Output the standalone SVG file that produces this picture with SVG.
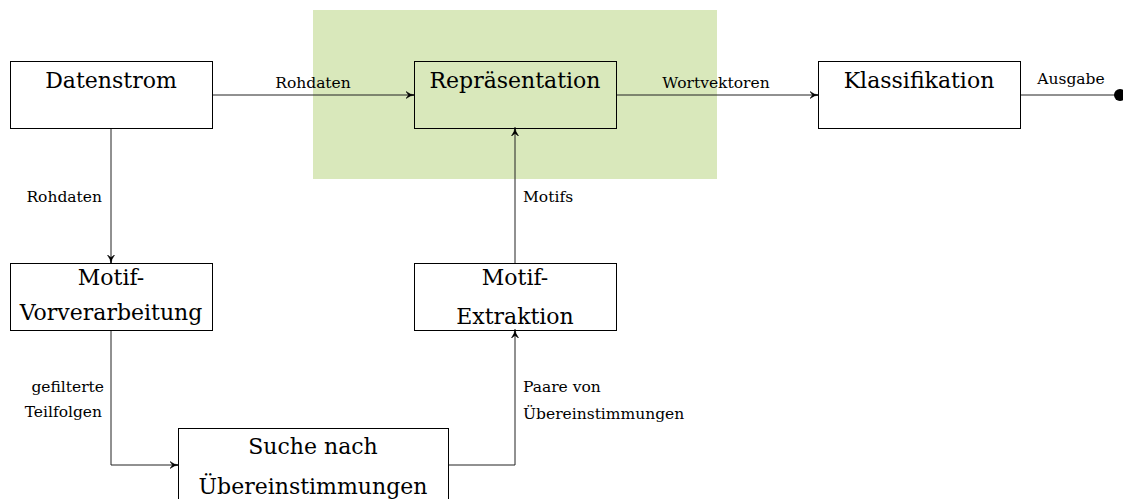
<svg xmlns="http://www.w3.org/2000/svg" width="1123" height="499" viewBox="0 0 1123 499">
  <style>
    .box { fill: none; stroke: #000; stroke-width: 1; }
    .lbl { font-family: "DejaVu Serif", "Liberation Serif", serif; font-size: 22px; fill: #000; text-anchor: middle; }
    .elbl { font-family: "DejaVu Serif", "Liberation Serif", serif; font-size: 15.5px; fill: #000; }
    .edge { fill: none; stroke: #222; stroke-width: 1; }
  </style>
  <defs>
    <marker id="arr" viewBox="0 0 10 10" refX="9" refY="5" markerWidth="9" markerHeight="9" markerUnits="userSpaceOnUse" orient="auto">
      <path d="M0,1 Q5,5 10,5 Q5,5 0,9 L3,5 Z" fill="#000" stroke="#000" stroke-width="0.6" stroke-linejoin="round"/>
    </marker>
  </defs>

  <!-- highlighted representation area -->
  <rect x="313" y="10" width="404" height="169" fill="#d9e8bb"/>

  <g id="connectors">
    <path class="edge" d="M212,95 H414" marker-end="url(#arr)"/>
    <text class="elbl" x="313" y="88" text-anchor="middle">Rohdaten</text>

    <path class="edge" d="M616,95 H818" marker-end="url(#arr)"/>
    <text class="elbl" x="716" y="88" text-anchor="middle">Wortvektoren</text>

    <path class="edge" d="M1020,95 H1118"/>
    <circle cx="1120" cy="95" r="6" fill="#000"/>
    <text class="elbl" x="1071" y="84" text-anchor="middle">Ausgabe</text>

    <path class="edge" d="M111,128 V263" marker-end="url(#arr)"/>
    <text class="elbl" x="102" y="202" text-anchor="end">Rohdaten</text>

    <path class="edge" d="M111,330 V465 H178" marker-end="url(#arr)"/>
    <text class="elbl" x="104" y="392" text-anchor="end">gefilterte</text>
    <text class="elbl" x="102" y="417" text-anchor="end">Teilfolgen</text>

    <path class="edge" d="M448,465 H515 V330" marker-end="url(#arr)"/>
    <text class="elbl" x="523" y="392">Paare von</text>
    <text class="elbl" x="523" y="419">Übereinstimmungen</text>

    <path class="edge" d="M515,263 V128" marker-end="url(#arr)"/>
    <text class="elbl" x="523" y="202">Motifs</text>
  </g>

  <g id="datenstrom">
    <rect class="box" x="10.5" y="61.5" width="202" height="67"/>
    <text class="lbl" x="111" y="88">Datenstrom</text>
  </g>

  <g id="repraesentation">
    <rect class="box" x="414.5" y="61.5" width="202" height="67"/>
    <text class="lbl" x="515" y="88">Repräsentation</text>
  </g>

  <g id="klassifikation">
    <rect class="box" x="818.5" y="61.5" width="202" height="67"/>
    <text class="lbl" x="919" y="88">Klassifikation</text>
  </g>

  <g id="motif-vorverarbeitung">
    <rect class="box" x="10.5" y="263.5" width="202" height="67"/>
    <text class="lbl" x="111" y="285">Motif-</text>
    <text class="lbl" x="111" y="320">Vorverarbeitung</text>
  </g>

  <g id="motif-extraktion">
    <rect class="box" x="414.5" y="263.5" width="202" height="67"/>
    <text class="lbl" x="515" y="285">Motif-</text>
    <text class="lbl" x="515" y="324">Extraktion</text>
  </g>

  <g id="suche">
    <rect class="box" x="178.5" y="428.5" width="270" height="80"/>
    <text class="lbl" x="313" y="454">Suche nach</text>
    <text class="lbl" x="313" y="494">Übereinstimmungen</text>
  </g>
</svg>
